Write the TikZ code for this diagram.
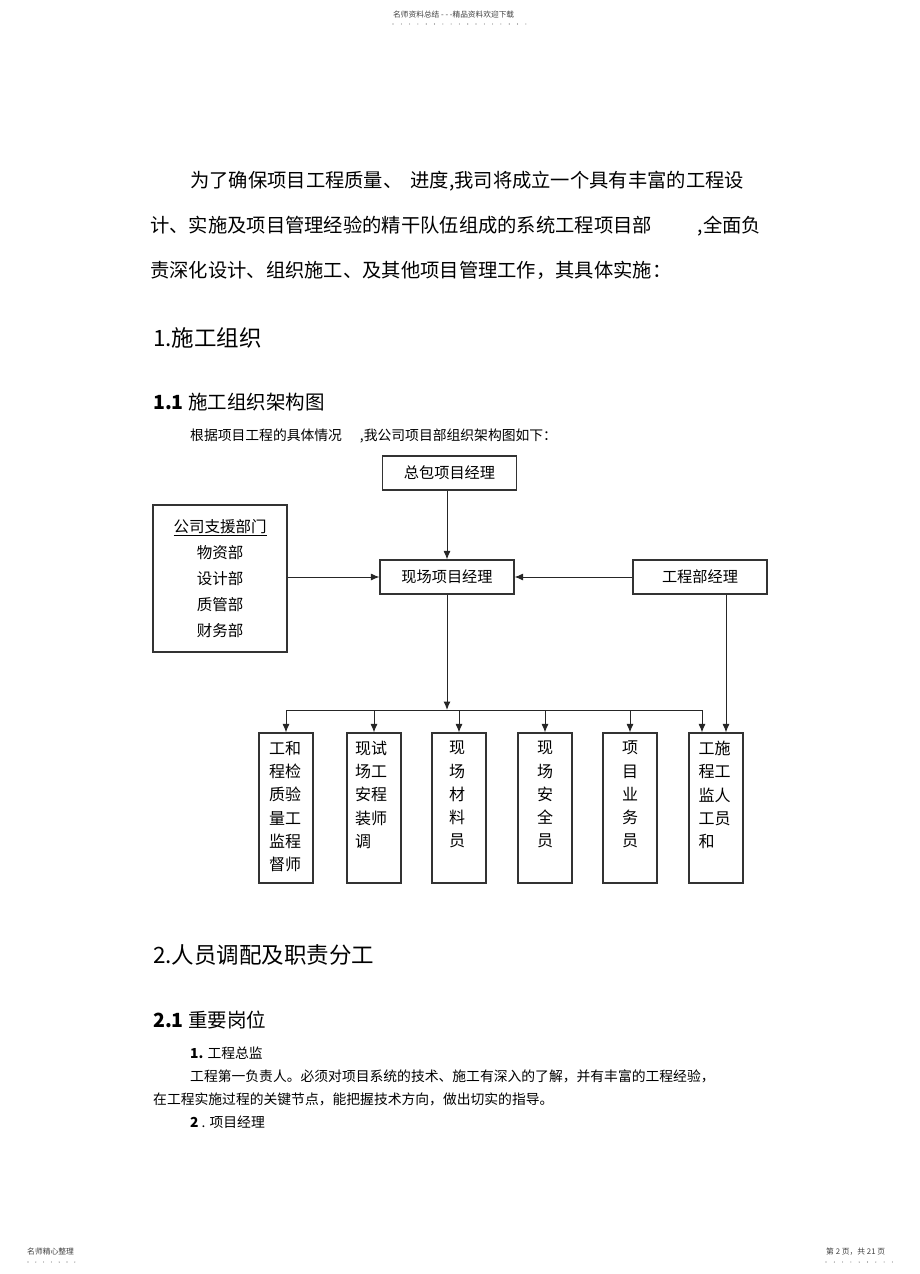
\documentclass[tikz,border=0pt]{standalone}
\usepackage{fontspec}
\setmainfont{Noto Sans CJK SC}
\usepackage{tikz}
\usetikzlibrary{arrows.meta}
\newcommand{\setsz}[2]{\fontsize{#1}{#2}\selectfont}
\tikzset{
	box/.style={draw=black!80, line width=1.1pt, inner sep=0pt, minimum width=134pt, minimum height=34pt, font=\setsz{15.2}{15.2}},
	tall/.style={draw=black!80, line width=1.1pt, inner sep=0pt, minimum width=54pt, minimum height=150pt},
	col/.style={anchor=north, inner sep=0pt, align=left, font=\setsz{16}{23.2}},
	txt/.style={anchor=base west, inner sep=0pt},
	link/.style={draw=black!85, line width=1pt},
	arr/.style={link, -{Latex[length=8.5pt,width=7pt]}},
	dot/.style={fill=black!60},
}
\begin{document}
\begin{tikzpicture}[x=1pt,y=-1pt]
					\useasboundingbox (0,0) rectangle (920,1274);
					\node[txt, font=\setsz{7.7}{7.7}, text=black!75] (head) at (393,17) {名师资料总结 - - -精品资料欢迎下载};
					\foreach \i in {0,...,16} \fill[dot] (393+8.3*\i,24) circle (0.55pt);
					\node[txt, font=\setsz{19.3}{19.3}] (p1) at (190,187) {为了确保项目工程质量、\hspace{8pt}进度,我司将成立一个具有丰富的工程设};
					\node[txt, font=\setsz{19.3}{19.3}] (p2) at (150,232) {计、实施及项目管理经验的精干队伍组成的系统工程项目部\hspace{46pt},全面负};
					\node[txt, font=\setsz{19.3}{19.3}] (p3) at (150,277) {责深化设计、组织施工、及其他项目管理工作，其具体实施：};
					\node[txt, font=\setsz{22.5}{22.5}] (h1) at (153,346.5) {1.施工组织};
					\node[txt, font=\setsz{19.5}{19.5}] (h11) at (153,409.5) {\textbf{1.1} 施工组织架构图};
					\node[txt, font=\setsz{13.8}{13.8}] (intro) at (190,440) {根据项目工程的具体情况\hspace{18pt},我公司项目部组织架构图如下：};
					\node[box] (zongbao) at (449.5,473) {总包项目经理};
					\node[box, minimum height=147pt, align=center, font=\setsz{15.5}{26}] (zhiyuan) at (220,578.5) {\underline{公司支援部门}\\物资部\\设计部\\质管部\\财务部};
					\node[box] (xianchang) at (447,577) {现场项目经理};
					\node[box] (gcb) at (700,577) {工程部经理};
					\node[tall] (b1) at (286,808) {};
					\node[tall] (b2) at (374,808) {};
					\node[tall] (b3) at (459,808) {};
					\node[tall] (b4) at (545,808) {};
					\node[tall] (b5) at (630,808) {};
					\node[tall] (b6) at (716,808) {};
					\node[col] (t1) at (285,741) {工和\\程检\\质验\\量工\\监程\\督师};
					\node[col] (t2) at (371,741) {现试\\场工\\安程\\装师\\调};
					\node[col] (t3) at (457,741) {现\\场\\材\\料\\员};
					\node[col] (t4) at (545,741) {现\\场\\安\\全\\员};
					\node[col] (t5) at (630,741) {项\\目\\业\\务\\员};
					\node[col] (t6) at (714.5,741) {工施\\程工\\监人\\工员\\和};
					\coordinate (bus) at (447,710);
					\coordinate (bus6) at (702,710);
					\draw[arr] (zongbao.south -| xianchang.north) -- (xianchang.north);
					\draw[arr] (zhiyuan.east |- xianchang.west) -- (xianchang.west);
					\draw[arr] (gcb.west) -- (xianchang.east);
					\draw[arr] (xianchang.south) -- (bus);
					\draw[link] (b1.north |- bus) -- (bus6);
					\foreach \b in {b1,b2,b3,b4,b5} \draw[arr] (\b.north |- bus) -- (\b.north);
					\draw[arr] (bus6) -- (bus6 |- b6.north);
					\draw[arr] ([xshift=26pt]gcb.south) -- ([xshift=26pt]gcb.south |- b6.north);
					\node[txt, font=\setsz{22.5}{22.5}] (h2) at (153,963.5) {2.人员调配及职责分工};
					\node[txt, font=\setsz{19.5}{19.5}] (h21) at (153,1027.5) {\textbf{2.1} 重要岗位};
					\node[txt, font=\setsz{13.8}{13.8}] (s1) at (190,1058) {\textbf{1.} 工程总监};
					\node[txt, font=\setsz{13.8}{13.8}] (s1a) at (190,1081) {工程第一负责人。必须对项目系统的技术、施工有深入的了解，并有丰富的工程经验，};
					\node[txt, font=\setsz{13.8}{13.8}] (s1b) at (153,1104) {在工程实施过程的关键节点，能把握技术方向，做出切实的指导。};
					\node[txt, font=\setsz{13.8}{13.8}] (s2) at (190,1127) {\textbf{2} . 项目经理};
					\node[txt, font=\setsz{7.8}{7.8}, text=black!75] (footl) at (27,1254) {名师精心整理};
					\foreach \i in {0,...,6} \fill[dot] (28+7.8*\i,1262) circle (0.55pt);
					\node[txt, font=\setsz{7.8}{7.8}, text=black!75] (footr) at (826,1254) {第 2 页，共 21 页};
					\foreach \i in {0,...,8} \fill[dot] (826+8.3*\i,1262) circle (0.55pt);
\end{tikzpicture}
\end{document}
